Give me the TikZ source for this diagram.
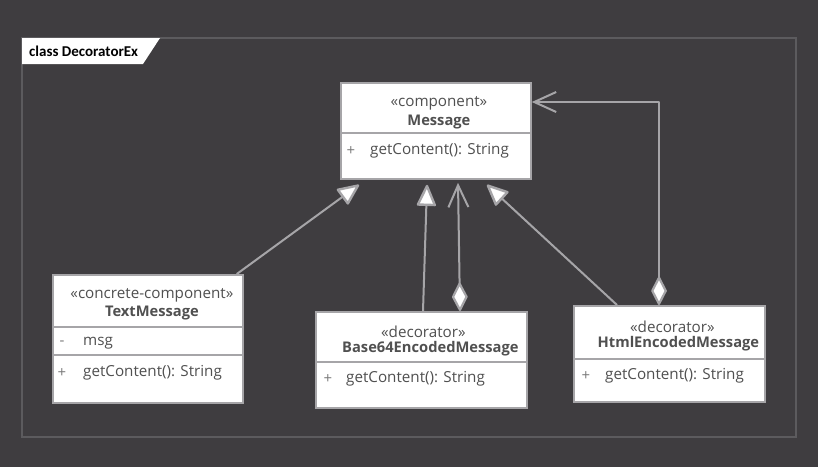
\documentclass[tikz,border=0pt]{standalone}
\usepackage{fontspec}
\setmainfont{Open Sans}
\newfontfamily\tabfont{Carlito}
\usetikzlibrary{arrows.meta,calc}
\definecolor{bg}{HTML}{3F3D40}
\definecolor{frm}{HTML}{5C5B5E}
\definecolor{ln}{HTML}{A6A5A8}
\definecolor{txtc}{HTML}{505050}
\definecolor{vis}{HTML}{7A7A7A}
\tikzset{
  umlbox/.style={draw=ln, fill=white, line width=1.8pt, inner sep=0pt, anchor=north west},
  divline/.style={draw=ln, line width=1.8pt},
  ster/.style={text=txtc, font=\fontsize{15.2}{17}\selectfont, inner sep=0pt},
  cname/.style={text=txtc, font=\bfseries\fontsize{14.7}{17}\selectfont, inner sep=0pt},
  member/.style={text=txtc, font=\fontsize{15.2}{17}\selectfont, inner sep=0pt, anchor=west},
  visi/.style={text=vis, font=\fontsize{15}{17}\selectfont, inner sep=0pt, anchor=center},
  conn/.style={draw=ln, line width=2pt, line join=round},
  gen/.style={conn, -{Triangle[fill=white, length=23pt, width=20pt, line width=2.4pt, line join=round]}},
  agg/.style={conn, {Diamond[fill=white, length=31pt, width=16pt, line width=2.2pt, line join=round]}-{Straight Barb[length=22pt, width=20pt]}},
}
\begin{document}
\begin{tikzpicture}[x=1pt,y=-1pt]
\fill[bg] (0,0) rectangle (818,467);
\useasboundingbox (0,0) rectangle (818,467);
\draw[frm, line width=1.2pt] (22,38) rectangle (796,437);
\fill[white] (22,38) -- (160,38) -- (143,64) -- (22,64) -- cycle;
\node[anchor=west, inner sep=0pt, font=\tabfont\bfseries\fontsize{15}{17}\selectfont, text=black] (tab) at (29,51) {class DecoratorEx};

% Message
\node[umlbox, minimum width=190pt, minimum height=96pt] (msg) at (340,82) {};
\draw[divline] ([yshift=-51pt]msg.north west) -- ([yshift=-51pt]msg.north east);
\node[ster] (msgS) at ([xshift=3pt,yshift=-21pt]msg.north) {«component»};
\node[cname] (msgN) at ([xshift=3pt,yshift=-40pt]msg.north) {Message};
\node[visi] (msgV) at ([xshift=11pt,yshift=-69pt]msg.north west) {+};
\node[member] (msgM) at ([xshift=30pt,yshift=-69pt]msg.north west) {getContent(): String};

% TextMessage
\node[umlbox, minimum width=190pt, minimum height=128pt] (txt) at (52,274) {};
\draw[divline] ([yshift=-53pt]txt.north west) -- ([yshift=-53pt]txt.north east);
\draw[divline] ([yshift=-81pt]txt.north west) -- ([yshift=-81pt]txt.north east);
\node[ster] (txtS) at ([xshift=4pt,yshift=-21pt]txt.north) {«concrete-component»};
\node[cname] (txtN) at ([xshift=4pt,yshift=-39pt]txt.north) {TextMessage};
\node[visi] (txtV1) at ([xshift=10pt,yshift=-69pt]txt.north west) {-};
\node[member] (txtA) at ([xshift=31pt,yshift=-69pt]txt.north west) {msg};
\node[visi] (txtV2) at ([xshift=10pt,yshift=-99pt]txt.north west) {+};
\node[member] (txtM) at ([xshift=31pt,yshift=-99pt]txt.north west) {getContent(): String};

% Base64EncodedMessage
\node[umlbox, minimum width=211pt, minimum height=96pt] (b64) at (315,311) {};
\draw[divline] ([yshift=-51pt]b64.north west) -- ([yshift=-51pt]b64.north east);
\node[ster] (b64S) at ([xshift=2pt,yshift=-21pt]b64.north) {«decorator»};
\node[cname] (b64N) at ([xshift=9pt,yshift=-38pt]b64.north) {Base64EncodedMessage};
\node[visi] (b64V) at ([xshift=13pt,yshift=-68pt]b64.north west) {+};
\node[member] (b64M) at ([xshift=31pt,yshift=-68pt]b64.north west) {getContent(): String};

% HtmlEncodedMessage
\node[umlbox, minimum width=191pt, minimum height=96pt] (html) at (573,305) {};
\draw[divline] ([yshift=-54pt]html.north west) -- ([yshift=-54pt]html.north east);
\node[ster] (htmlS) at ([xshift=3pt,yshift=-22pt]html.north) {«decorator»};
\node[cname] (htmlN) at ([xshift=9pt,yshift=-39pt]html.north) {HtmlEncodedMessage};
\node[visi] (htmlV) at ([xshift=13pt,yshift=-71pt]html.north west) {+};
\node[member] (htmlM) at ([xshift=32pt,yshift=-71pt]html.north west) {getContent(): String};

% connectors
\draw[gen] ([xshift=-7pt]txt.north east) -- ([xshift=19pt,yshift=-5pt]msg.south west);
\draw[gen] ([xshift=108pt]b64.north west) -- ([xshift=87pt,yshift=-5pt]msg.south west);
\draw[agg] ([xshift=145pt]b64.north west) -- ([xshift=118pt,yshift=-3pt]msg.south west);
\draw[gen] ([xshift=44pt]html.north west) -- ([xshift=147pt,yshift=-5pt]msg.south west);
\draw[agg] ([xshift=86pt]html.north west) |- ([yshift=-20pt]msg.north east);
\end{tikzpicture}
\end{document}
